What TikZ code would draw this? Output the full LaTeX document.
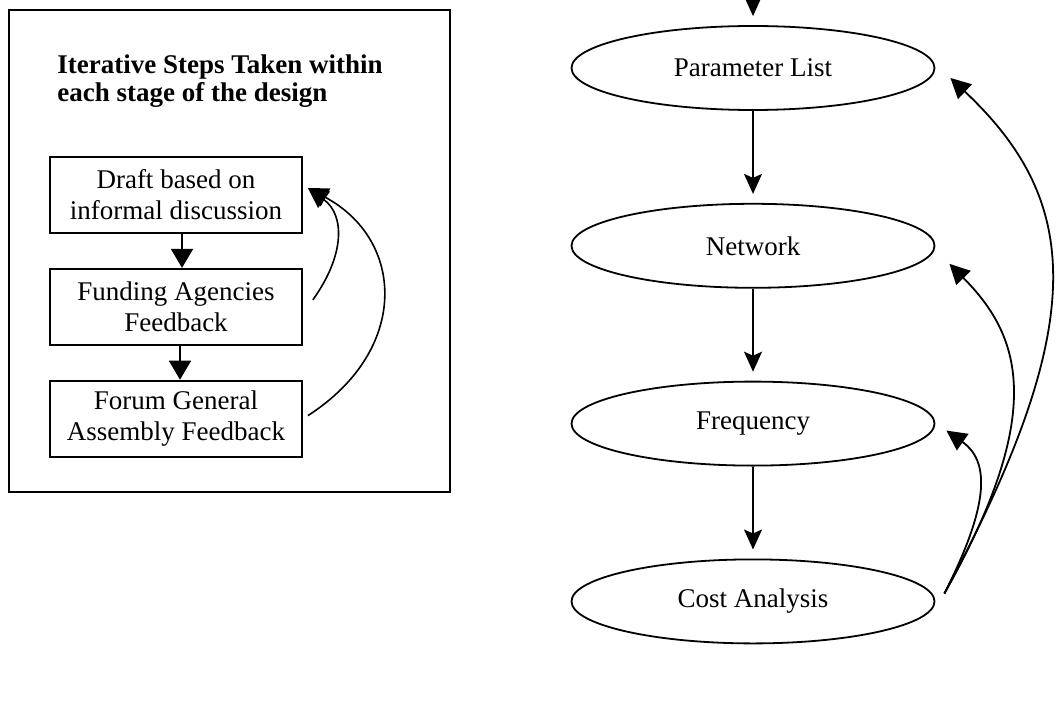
\documentclass[tikz,border=0pt]{standalone}
\usepackage{fontspec}
\setmainfont{Liberation Serif}
\usetikzlibrary{positioning,shapes.geometric,arrows.meta}

\begin{document}
\begin{tikzpicture}[x=0.5pt, y=-0.5pt, node distance=46pt,
    stage/.style={ellipse, draw, line width=0.9pt, minimum width=181.5pt, minimum height=42pt, inner sep=0pt, font=\fontsize{13.5}{16}\selectfont},
    stepbox/.style={rectangle, draw, line width=0.9pt, minimum width=126pt, minimum height=38pt, inner sep=0pt, align=center, font=\fontsize{13.5}{15.5}\selectfont},
    >={Triangle[width=10pt,length=10pt]}]
    \useasboundingbox (0,0) rectangle (1058,727);

    % frame with the iterative steps
    \draw[line width=1.1pt] (9,10) rectangle (450,492);
    \node[anchor=north west, inner sep=0pt, align=left, font=\fontsize{13.5}{14}\selectfont\bfseries] (T) at (57,54) {Iterative Steps Taken within\\each stage of the design};

    \node[stepbox] (D) at (176,195) {Draft based on\\informal discussion};
    \node[stepbox, below=17pt of D] (A) {Funding Agencies\\Feedback};
    \node[stepbox, below=17pt of A] (G) {Forum General\\Assembly Feedback};

    \coordinate (dIn) at ([shift={(5,-7)}]D.east);
    \coordinate (aOut) at ([shift={(10,-7)}]A.east);
    \coordinate (gOut) at ([shift={(5,-3)}]G.east);

    \path[->, line width=0.9pt, >={Triangle[width=11pt,length=9.5pt]}]
    ([xshift=3pt]D.south) edge ([xshift=3pt]A.north)
    ([xshift=2pt]A.south) edge ([xshift=2pt]G.north);
    \draw[->, line width=0.8pt] (aOut) .. controls (345,255) and (345,215) .. (dIn);
    \draw[->, line width=0.8pt] (gOut) .. controls (410,350) and (405,240) .. (dIn);

    % design stages
    \node[stage] (P) at (753,68) {Parameter List};
    \node[stage, below=of P] (N) {Network};
    \node[stage, below=of N] (F) {Frequency};
    \node[stage, below=of F] (C) {Cost Analysis};

    \coordinate (top) at (753,-40);
    \path[->, line width=0.9pt, shorten >=4.5pt, >={Stealth[width=9pt,length=10pt,inset=2pt]}]
    (top) edge (P)
    (P) edge (N)
    (N) edge (F)
    (F) edge (C);

    % feedback from the cost analysis
    \coordinate (cOut) at ([shift={(9,-8)}]C.east);
    \coordinate (pIn) at ([shift={(15,10)}]P.east);
    \coordinate (nIn) at ([shift={(14,18)}]N.east);
    \coordinate (fIn) at ([shift={(11,7)}]F.east);
    \draw[->, line width=0.9pt] (cOut) .. controls (1092,320) and (1080,200) .. (pIn);
    \draw[->, line width=0.9pt] (cOut) .. controls (1048,410) and (1020,335) .. (nIn);
    \draw[->, line width=0.9pt] (cOut) .. controls (992,500) and (988,460) .. (fIn);
\end{tikzpicture}
\end{document}
